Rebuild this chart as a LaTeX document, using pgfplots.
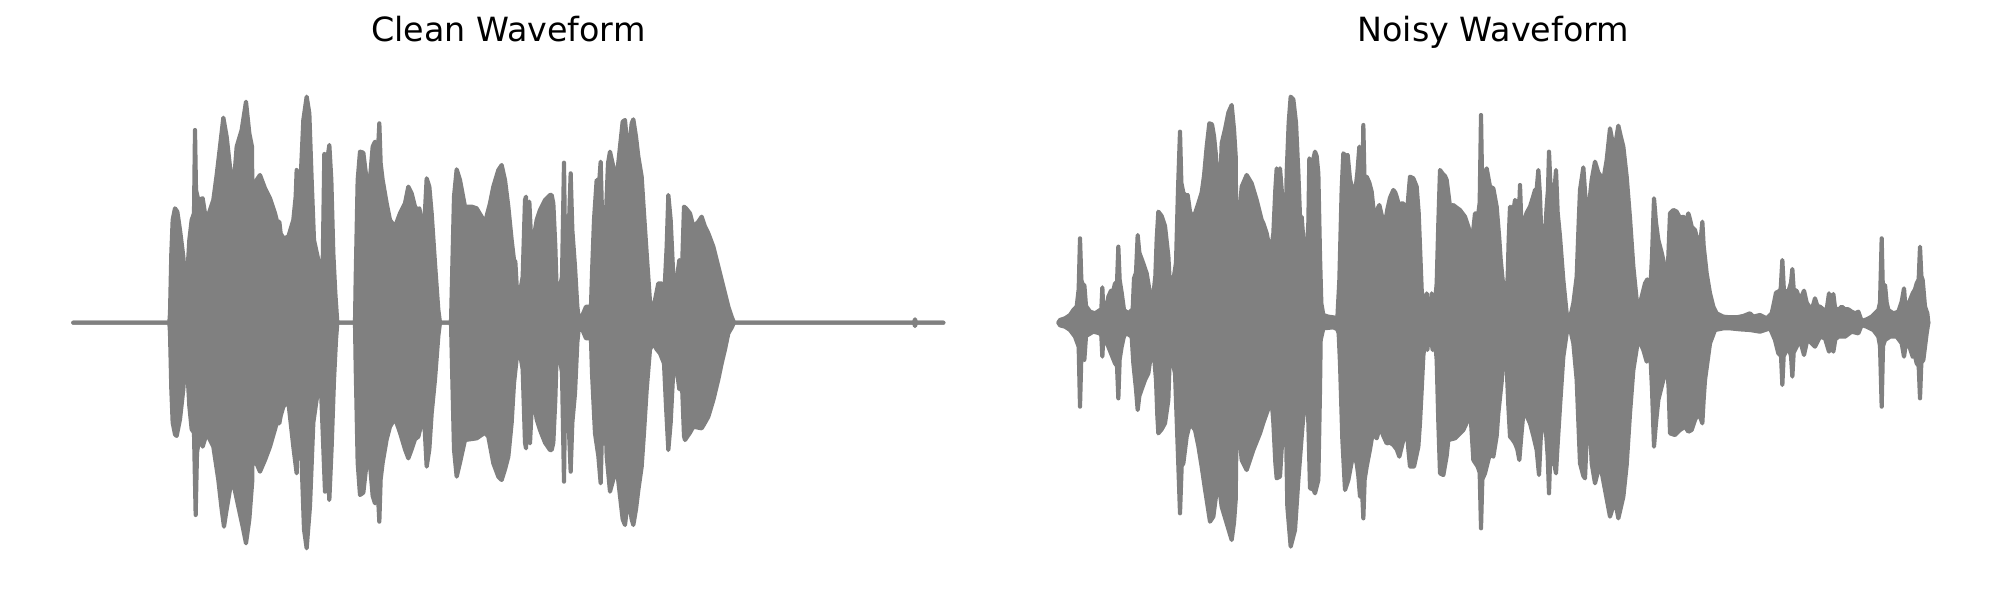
\documentclass[border=0pt]{standalone}
\usepackage{pgfplots}
\pgfplotsset{compat=1.18}
\usepackage{pgfplotstable}
\usepackage{fontspec}
\setmainfont{DejaVu Sans}

% x: horizontal position (1 unit = 1/3 px of the 2000x600 image), y: amplitude (1 unit = 1/3 px)
\pgfplotstableread[row sep=\\]{
X Y\\
40 0\\ 328 0\\ 330 28\\ 334 208\\ 338 308\\ 345 343\\ 352 333\\ 360 278\\ 370 198\\ 377 108\\ 381 38\\
383 163\\ 388 248\\ 395 308\\ 402 328\\ 405 578\\ 408 398\\ 415 368\\ 428 373\\ 435 328\\ 445 323\\
460 368\\ 470 443\\ 480 528\\ 490 615\\ 500 558\\ 510 468\\ 520 398\\ 530 528\\ 545 578\\ 558 663\\
568 568\\ 576 528\\ 579 128\\ 583 328\\ 590 428\\ 600 443\\ 615 403\\ 630 373\\ 645 328\\ 655 288\\
658 303\\ 662 268\\ 670 253\\ 685 258\\ 700 308\\ 707 378\\ 710 458\\ 713 328\\ 716 148\\ 720 388\\
730 608\\ 740 678\\ 748 628\\ 755 428\\ 762 248\\ 775 188\\ 788 168\\ 793 506\\ 798 248\\ 803 498\\
808 533\\ 814 428\\ 820 208\\ 826 88\\ 832 0\\ 885 0\\ 887 128\\ 893 428\\ 900 513\\ 910 510\\
920 428\\ 928 408\\ 938 528\\ 945 543\\ 952 478\\ 958 598\\ 962 478\\ 968 428\\ 980 358\\ 990 308\\
1005 288\\ 1020 328\\ 1035 358\\ 1045 408\\ 1055 388\\ 1065 348\\ 1072 338\\ 1078 343\\ 1085 308\\
1088 128\\ 1092 278\\ 1100 433\\ 1108 408\\ 1115 328\\ 1125 178\\ 1135 38\\ 1140 0\\ 1173 0\\
1176 128\\ 1182 378\\ 1190 460\\ 1200 428\\ 1215 348\\ 1235 348\\ 1250 343\\ 1265 318\\ 1275 298\\
1282 328\\ 1290 358\\ 1300 408\\ 1315 458\\ 1325 473\\ 1335 428\\ 1345 348\\ 1355 248\\ 1362 188\\
1366 183\\ 1372 78\\ 1378 13\\ 1383 108\\ 1388 138\\ 1395 368\\ 1398 378\\ 1402 278\\ 1408 363\\
1413 258\\ 1420 248\\ 1430 308\\ 1440 338\\ 1455 368\\ 1470 383\\ 1475 383\\ 1480 358\\ 1486 228\\
1490 98\\ 1500 108\\ 1506 138\\ 1512 480\\ 1516 168\\ 1522 178\\ 1528 328\\ 1532 448\\ 1537 278\\
1545 168\\ 1552 48\\ 1558 0\\ 1578 48\\ 1588 48\\ 1592 20\\ 1596 148\\ 1602 308\\ 1610 428\\
1618 428\\ 1622 483\\ 1626 328\\ 1630 158\\ 1636 278\\ 1644 478\\ 1650 513\\ 1660 468\\ 1670 433\\
1680 528\\ 1688 603\\ 1695 608\\ 1702 528\\ 1708 528\\ 1715 598\\ 1720 610\\ 1728 558\\ 1735 498\\
1745 438\\ 1752 328\\ 1760 208\\ 1770 63\\ 1780 48\\ 1785 68\\ 1795 118\\ 1805 118\\ 1812 68\\
1820 228\\ 1825 383\\ 1832 308\\ 1840 138\\ 1850 128\\ 1858 188\\ 1865 128\\ 1872 348\\ 1878 343\\
1890 328\\ 1900 288\\ 1915 303\\ 1925 318\\ 1935 288\\ 1945 268\\ 1960 228\\ 1975 168\\ 1985 128\\
1995 88\\ 2005 48\\ 2015 18\\ 2022 0\\ 2562 0\\ 2565 10\\ 2568 0\\ 2650 0\\
}\cleanup

\pgfplotstableread[row sep=\\]{
X Y\\
40 0\\ 328 0\\ 330 -30\\ 334 -200\\ 338 -300\\ 345 -335\\ 350 -340\\ 360 -290\\ 370 -200\\ 377 -100\\
381 -30\\ 383 -160\\ 388 -250\\ 395 -320\\ 402 -330\\ 407 -577\\ 411 -390\\ 420 -332\\ 428 -372\\
440 -332\\ 460 -372\\ 475 -472\\ 485 -560\\ 492 -612\\ 500 -560\\ 510 -500\\ 520 -482\\ 535 -552\\
548 -612\\ 558 -662\\ 568 -590\\ 577 -472\\ 579 -132\\ 585 -412\\ 600 -447\\ 615 -412\\ 630 -372\\
645 -320\\ 650 -302\\ 658 -302\\ 662 -280\\ 670 -252\\ 685 -237\\ 700 -372\\ 710 -452\\ 716 -142\\
725 -422\\ 732 -620\\ 740 -677\\ 750 -550\\ 760 -300\\ 770 -230\\ 782 -172\\ 795 -507\\ 800 -272\\
804 -450\\ 808 -532\\ 815 -372\\ 822 -172\\ 828 -52\\ 832 0\\ 885 0\\ 887 -128\\ 893 -420\\
900 -517\\ 910 -510\\ 920 -420\\ 928 -402\\ 938 -520\\ 945 -542\\ 952 -480\\ 958 -597\\ 962 -470\\
968 -420\\ 980 -350\\ 990 -312\\ 1005 -287\\ 1020 -330\\ 1035 -380\\ 1045 -407\\ 1055 -380\\
1065 -350\\ 1075 -342\\ 1085 -300\\ 1088 -132\\ 1092 -280\\ 1100 -432\\ 1108 -380\\ 1115 -272\\
1125 -170\\ 1135 -40\\ 1140 0\\ 1173 0\\ 1176 -128\\ 1182 -380\\ 1190 -462\\ 1200 -420\\ 1215 -352\\
1250 -347\\ 1275 -330\\ 1285 -342\\ 1300 -422\\ 1315 -462\\ 1325 -472\\ 1335 -440\\ 1345 -402\\
1355 -300\\ 1362 -182\\ 1372 -90\\ 1378 -13\\ 1383 -110\\ 1388 -140\\ 1395 -360\\ 1398 -377\\
1402 -300\\ 1410 -362\\ 1415 -260\\ 1420 -222\\ 1430 -290\\ 1440 -322\\ 1455 -360\\ 1470 -382\\
1475 -382\\ 1480 -360\\ 1486 -230\\ 1490 -92\\ 1500 -110\\ 1506 -150\\ 1512 -477\\ 1516 -170\\
1522 -200\\ 1528 -350\\ 1532 -447\\ 1537 -300\\ 1545 -212\\ 1552 -60\\ 1558 0\\ 1578 -47\\
1588 -47\\ 1592 -20\\ 1596 -150\\ 1605 -332\\ 1615 -400\\ 1622 -482\\ 1626 -330\\ 1632 -152\\
1640 -400\\ 1650 -507\\ 1660 -470\\ 1670 -432\\ 1680 -520\\ 1688 -590\\ 1695 -607\\ 1705 -522\\
1715 -590\\ 1720 -607\\ 1728 -560\\ 1735 -502\\ 1745 -432\\ 1752 -330\\ 1760 -202\\ 1770 -80\\
1780 -62\\ 1790 -80\\ 1800 -92\\ 1812 -122\\ 1818 -250\\ 1825 -382\\ 1832 -300\\ 1840 -142\\
1850 -140\\ 1858 -200\\ 1865 -160\\ 1872 -340\\ 1875 -352\\ 1890 -330\\ 1900 -312\\ 1915 -315\\
1925 -317\\ 1935 -300\\ 1945 -282\\ 1960 -232\\ 1975 -170\\ 1985 -122\\ 1995 -80\\ 2005 -32\\
2015 -15\\ 2022 0\\ 2562 0\\ 2565 -10\\ 2568 0\\ 2650 0\\
}\cleanlo

\pgfplotstableread[row sep=\\]{
X Y\\
25 0\\ 30 8\\ 45 13\\ 60 23\\ 70 38\\ 80 48\\ 86 100\\ 90 253\\ 94 128\\ 100 108\\ 103 113\\ 108 50\\
120 33\\ 135 28\\ 150 38\\ 154 40\\ 157 106\\ 160 40\\ 170 48\\ 175 78\\ 183 96\\ 188 88\\ 195 118\\
201 120\\ 205 228\\ 209 128\\ 215 90\\ 222 38\\ 235 28\\ 248 40\\ 252 133\\ 258 150\\ 263 263\\
268 210\\ 278 183\\ 290 148\\ 300 88\\ 310 83\\ 316 140\\ 320 250\\ 325 333\\ 335 320\\ 345 290\\
355 200\\ 360 108\\ 365 133\\ 372 140\\ 378 180\\ 384 400\\ 390 573\\ 394 420\\ 400 390\\ 408 380\\
413 383\\ 420 333\\ 430 313\\ 445 358\\ 455 390\\ 462 440\\ 470 528\\ 478 598\\ 486 595\\ 492 560\\
498 500\\ 505 388\\ 510 390\\ 515 538\\ 525 580\\ 535 630\\ 545 653\\ 552 580\\ 557 500\\ 560 128\\
566 300\\ 575 408\\ 590 443\\ 605 418\\ 620 368\\ 635 308\\ 640 298\\ 650 268\\ 658 228\\ 665 230\\
670 268\\ 676 400\\ 680 463\\ 685 400\\ 690 463\\ 695 400\\ 700 328\\ 705 168\\ 710 450\\ 716 600\\
722 678\\ 730 670\\ 738 600\\ 745 450\\ 750 318\\ 755 318\\ 760 250\\ 770 208\\ 775 300\\ 778 493\\
785 470\\ 795 513\\ 800 500\\ 805 448\\ 810 200\\ 814 58\\ 820 23\\ 835 18\\ 850 16\\ 862 13\\
868 128\\ 875 400\\ 880 508\\ 887 500\\ 893 503\\ 900 430\\ 908 400\\ 915 388\\ 922 450\\ 928 528\\
933 420\\ 937 400\\ 940 593\\ 944 400\\ 950 438\\ 958 420\\ 965 393\\ 975 298\\ 982 340\\ 988 353\\
995 323\\ 1005 298\\ 1012 340\\ 1020 375\\ 1030 398\\ 1036 390\\ 1040 378\\ 1048 348\\ 1055 358\\
1060 358\\ 1066 340\\ 1070 308\\ 1075 380\\ 1080 438\\ 1090 433\\ 1100 408\\ 1106 330\\ 1110 228\\
1115 100\\ 1120 28\\ 1126 50\\ 1130 88\\ 1134 30\\ 1140 40\\ 1145 88\\ 1150 30\\ 1155 60\\ 1160 118\\
1165 300\\ 1170 458\\ 1177 448\\ 1185 440\\ 1190 428\\ 1200 348\\ 1210 353\\ 1220 345\\ 1230 338\\
1245 318\\ 1255 288\\ 1265 248\\ 1270 280\\ 1275 328\\ 1285 328\\ 1289 360\\ 1293 623\\ 1297 380\\
1300 438\\ 1310 463\\ 1320 408\\ 1330 403\\ 1340 348\\ 1348 250\\ 1352 190\\ 1358 128\\ 1363 60\\
1366 28\\ 1370 100\\ 1373 138\\ 1376 250\\ 1380 348\\ 1383 300\\ 1387 348\\ 1391 340\\ 1395 368\\
1400 360\\ 1406 300\\ 1410 413\\ 1414 300\\ 1420 298\\ 1430 330\\ 1440 348\\ 1450 380\\ 1455 398\\
1460 400\\ 1465 458\\ 1470 380\\ 1475 228\\ 1480 240\\ 1485 268\\ 1490 350\\ 1494 400\\ 1497 513\\
1501 420\\ 1505 398\\ 1512 380\\ 1518 458\\ 1523 330\\ 1530 258\\ 1540 128\\ 1550 28\\ 1560 13\\
1570 58\\ 1580 138\\ 1586 300\\ 1590 398\\ 1600 466\\ 1608 350\\ 1615 168\\ 1620 380\\ 1625 428\\
1635 483\\ 1645 450\\ 1650 443\\ 1660 428\\ 1670 488\\ 1680 583\\ 1688 540\\ 1695 530\\ 1705 591\\
1712 560\\ 1720 528\\ 1730 438\\ 1740 313\\ 1750 168\\ 1760 68\\ 1770 58\\ 1778 90\\ 1785 118\\
1792 130\\ 1800 78\\ 1806 200\\ 1812 373\\ 1818 300\\ 1825 248\\ 1835 210\\ 1840 188\\ 1847 150\\
1850 93\\ 1855 200\\ 1860 328\\ 1870 338\\ 1880 333\\ 1888 318\\ 1895 315\\ 1900 318\\ 1905 288\\
1910 310\\ 1915 328\\ 1920 310\\ 1925 288\\ 1935 278\\ 1945 238\\ 1953 260\\ 1957 303\\ 1961 230\\
1970 148\\ 1980 88\\ 1990 48\\ 2000 28\\ 2020 18\\ 2040 16\\ 2060 16\\ 2080 20\\ 2100 28\\ 2110 18\\
2130 23\\ 2150 13\\ 2165 28\\ 2172 60\\ 2178 90\\ 2185 93\\ 2192 100\\ 2197 188\\ 2202 90\\ 2210 95\\
2215 93\\ 2223 120\\ 2227 161\\ 2231 100\\ 2240 95\\ 2250 68\\ 2262 96\\ 2270 60\\ 2278 48\\ 2288 48\\
2295 73\\ 2302 50\\ 2310 48\\ 2322 38\\ 2330 40\\ 2337 88\\ 2342 48\\ 2350 86\\ 2355 45\\ 2365 38\\
2375 48\\ 2385 40\\ 2395 40\\ 2405 33\\ 2415 28\\ 2425 33\\ 2435 5\\ 2450 10\\ 2465 18\\ 2475 28\\
2485 38\\ 2490 60\\ 2495 253\\ 2499 80\\ 2505 113\\ 2510 60\\ 2515 38\\ 2530 28\\ 2545 33\\ 2555 63\\
2562 103\\ 2566 50\\ 2570 38\\ 2580 68\\ 2588 88\\ 2595 100\\ 2600 118\\ 2606 130\\ 2610 228\\
2614 140\\ 2618 128\\ 2625 48\\ 2632 28\\ 2635 0\\
}\noisyup

\pgfplotstableread[row sep=\\]{
X Y\\
25 0\\ 30 -8\\ 45 -12\\ 60 -22\\ 75 -42\\ 86 -72\\ 90 -252\\ 94 -102\\ 103 -112\\ 108 -40\\ 130 -27\\
150 -32\\ 154 -40\\ 157 -102\\ 160 -42\\ 175 -72\\ 185 -97\\ 195 -122\\ 201 -130\\ 205 -227\\
209 -110\\ 215 -72\\ 222 -40\\ 230 -32\\ 245 -42\\ 250 -122\\ 258 -200\\ 263 -262\\ 268 -220\\
275 -200\\ 285 -172\\ 295 -152\\ 305 -82\\ 312 -100\\ 318 -172\\ 322 -280\\ 325 -332\\ 335 -320\\
345 -302\\ 355 -232\\ 360 -82\\ 368 -120\\ 375 -152\\ 384 -400\\ 390 -572\\ 395 -430\\ 400 -422\\
410 -342\\ 420 -302\\ 435 -322\\ 445 -370\\ 455 -432\\ 465 -500\\ 470 -532\\ 480 -597\\ 490 -582\\
498 -520\\ 505 -472\\ 515 -552\\ 530 -602\\ 545 -652\\ 552 -600\\ 557 -532\\ 562 -132\\ 568 -330\\
575 -412\\ 590 -442\\ 610 -382\\ 630 -332\\ 640 -300\\ 650 -272\\ 658 -250\\ 665 -232\\ 670 -300\\
676 -420\\ 680 -467\\ 690 -462\\ 695 -380\\ 700 -272\\ 705 -142\\ 712 -552\\ 722 -672\\ 735 -622\\
745 -472\\ 757 -317\\ 765 -230\\ 770 -162\\ 775 -300\\ 780 -497\\ 790 -500\\ 795 -512\\ 805 -472\\
810 -200\\ 812 -52\\ 820 -17\\ 850 -14\\ 862 -20\\ 866 -32\\ 870 -122\\ 877 -350\\ 885 -502\\
895 -472\\ 910 -392\\ 920 -422\\ 925 -460\\ 930 -522\\ 935 -480\\ 940 -587\\ 944 -470\\ 950 -432\\
960 -380\\ 968 -332\\ 980 -347\\ 990 -312\\ 1000 -340\\ 1010 -362\\ 1020 -360\\ 1030 -367\\
1040 -380\\ 1048 -402\\ 1060 -352\\ 1070 -312\\ 1075 -380\\ 1080 -432\\ 1092 -432\\ 1105 -372\\
1110 -300\\ 1115 -202\\ 1120 -100\\ 1125 -52\\ 1130 -60\\ 1132 -82\\ 1136 -40\\ 1140 -32\\
1145 -60\\ 1148 -82\\ 1152 -50\\ 1155 -52\\ 1160 -112\\ 1165 -300\\ 1170 -452\\ 1180 -457\\
1190 -400\\ 1195 -352\\ 1215 -347\\ 1240 -322\\ 1255 -290\\ 1260 -252\\ 1265 -330\\ 1270 -412\\
1283 -432\\ 1289 -450\\ 1293 -617\\ 1297 -470\\ 1305 -452\\ 1320 -392\\ 1330 -402\\ 1340 -340\\
1345 -272\\ 1355 -177\\ 1362 -80\\ 1365 -32\\ 1370 -132\\ 1375 -250\\ 1380 -342\\ 1387 -350\\
1395 -362\\ 1402 -380\\ 1408 -412\\ 1413 -350\\ 1420 -272\\ 1430 -280\\ 1440 -302\\ 1450 -340\\
1460 -382\\ 1467 -457\\ 1472 -350\\ 1480 -272\\ 1488 -330\\ 1493 -400\\ 1497 -512\\ 1501 -390\\
1505 -382\\ 1512 -420\\ 1518 -452\\ 1522 -380\\ 1530 -252\\ 1540 -102\\ 1550 -32\\ 1560 -17\\
1570 -62\\ 1580 -172\\ 1590 -422\\ 1600 -460\\ 1605 -467\\ 1610 -350\\ 1615 -162\\ 1620 -300\\
1625 -422\\ 1635 -482\\ 1650 -422\\ 1665 -502\\ 1680 -582\\ 1695 -532\\ 1705 -587\\ 1720 -522\\
1730 -427\\ 1740 -272\\ 1750 -142\\ 1765 -47\\ 1780 -82\\ 1790 -117\\ 1800 -72\\ 1806 -200\\
1812 -372\\ 1818 -300\\ 1825 -232\\ 1840 -172\\ 1850 -102\\ 1856 -200\\ 1860 -332\\ 1875 -337\\
1890 -322\\ 1905 -312\\ 1915 -327\\ 1925 -322\\ 1935 -292\\ 1945 -272\\ 1953 -290\\ 1957 -302\\
1961 -230\\ 1965 -172\\ 1980 -62\\ 1995 -22\\ 2020 -17\\ 2040 -17\\ 2070 -20\\ 2100 -22\\ 2130 -27\\
2160 -17\\ 2175 -52\\ 2185 -92\\ 2193 -100\\ 2197 -187\\ 2201 -100\\ 2205 -92\\ 2215 -72\\
2223 -100\\ 2227 -162\\ 2231 -90\\ 2235 -82\\ 2250 -52\\ 2262 -97\\ 2270 -60\\ 2275 -52\\ 2295 -72\\
2310 -42\\ 2325 -47\\ 2337 -87\\ 2343 -60\\ 2350 -87\\ 2356 -50\\ 2365 -42\\ 2385 -42\\ 2405 -27\\
2425 -32\\ 2435 -7\\ 2450 -12\\ 2470 -22\\ 2485 -42\\ 2490 -70\\ 2495 -252\\ 2499 -70\\ 2505 -52\\
2520 -42\\ 2540 -42\\ 2555 -62\\ 2562 -102\\ 2568 -60\\ 2575 -62\\ 2588 -102\\ 2595 -100\\
2600 -122\\ 2606 -130\\ 2610 -227\\ 2614 -120\\ 2620 -112\\ 2630 -32\\ 2635 0\\
}\noisylo

\begin{document}
\begin{tikzpicture}
\useasboundingbox (0,0) rectangle (720pt,216pt);
\pgfplotsset{
  wave/.style={hide axis, scale only axis, clip=false,
    width=313.2pt, height=165.6pt, ymin=-690, ymax=690, anchor=south west,
    title style={at={(0.5,1)}, anchor=base, yshift=12.4pt, font=\fontsize{12}{14}\selectfont}},
  env/.style={draw=gray, fill=gray, line width=1.5pt, line join=round, line cap=round, mark=none},
}
\begin{axis}[wave, at={(26.4pt,17.04pt)}, xmin=40, xmax=2650, title={Clean Waveform}]
\addplot[env] table[x=X, y=Y] {\cleanlo} \closedcycle;
\addplot[env] table[x=X, y=Y] {\cleanup} \closedcycle;
\end{axis}
\begin{axis}[wave, at={(381.0pt,17.04pt)}, xmin=25, xmax=2635, title={Noisy Waveform}]
\addplot[env] table[x=X, y=Y] {\noisylo} \closedcycle;
\addplot[env] table[x=X, y=Y] {\noisyup} \closedcycle;
\end{axis}
\end{tikzpicture}
\end{document}
